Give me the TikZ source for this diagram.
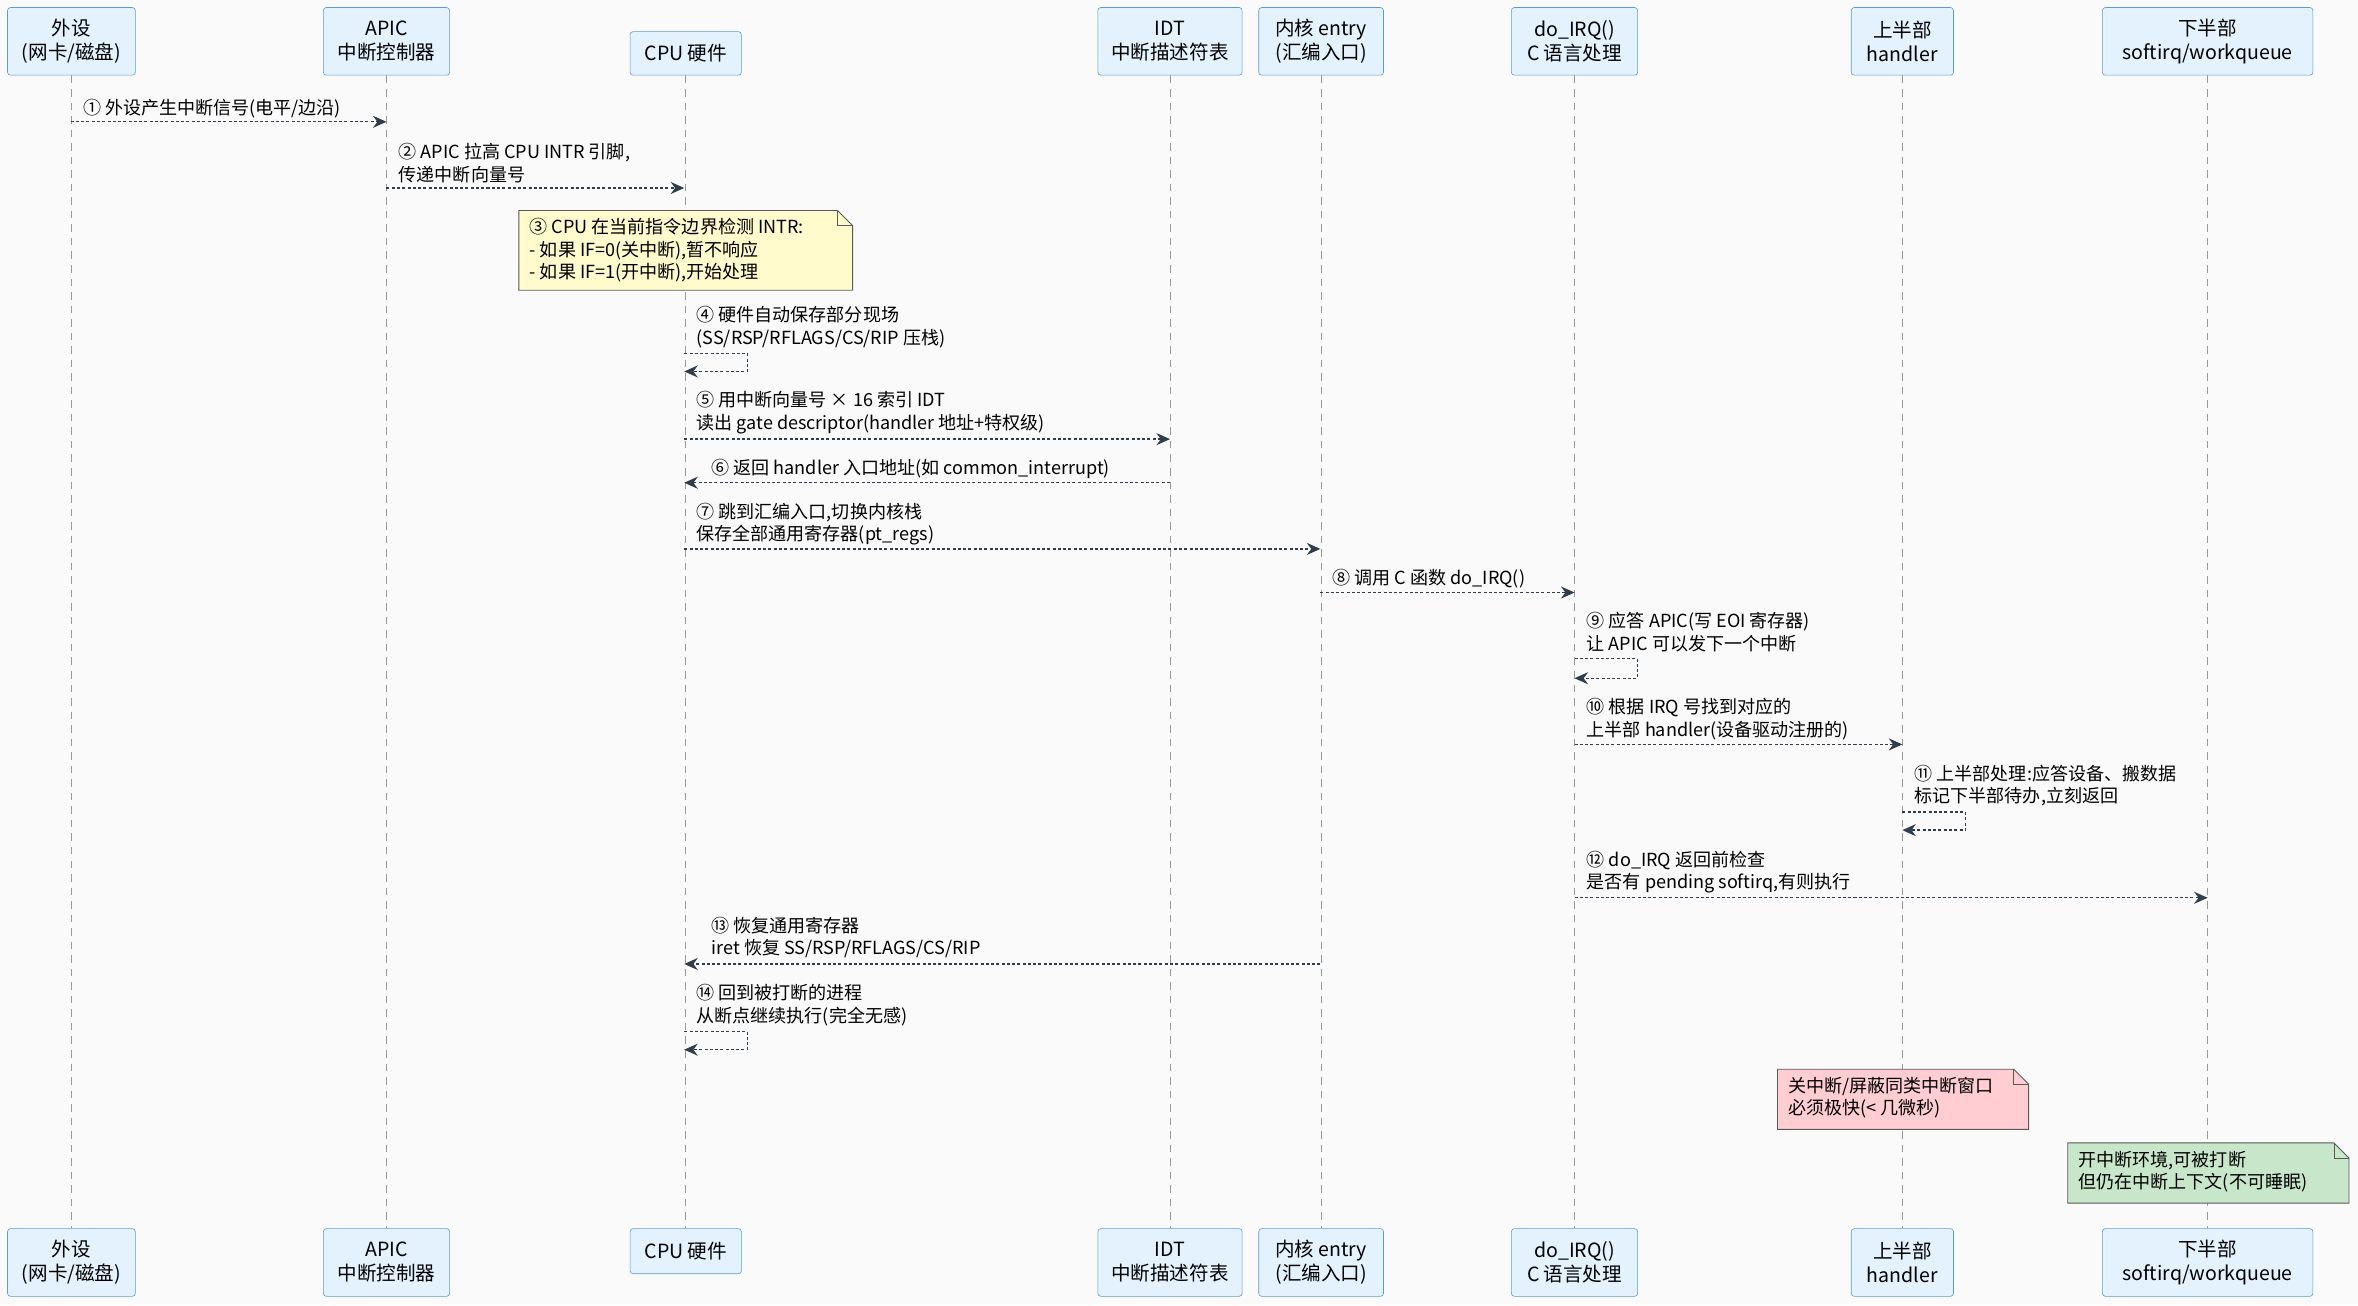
\documentclass[tikz,border=0pt]{standalone}
\usepackage{fontspec}
\setmainfont{Noto Sans CJK SC}
\usetikzlibrary{arrows.meta,shapes.misc}
\definecolor{bg}{HTML}{FAFAFA}
\definecolor{pfill}{HTML}{E3F2FD}
\definecolor{pdraw}{HTML}{5B9BD5}
\definecolor{ln}{HTML}{2F3E4C}
\definecolor{nyel}{HTML}{FFFBCC}
\definecolor{npink}{HTML}{FFCDD2}
\definecolor{ngreen}{HTML}{C8E6C9}
\tikzset{
 part/.style={draw=pdraw,fill=pfill,rounded corners=2pt,align=center,font=\fontsize{13}{16}\selectfont,inner sep=0pt},
 life/.style={draw=gray!80,dash pattern=on 5pt off 4pt,line width=0.6pt},
 msg/.style={draw=ln,dash pattern=on 2pt off 1.5pt,line width=0.9pt,-{Stealth[length=9pt,width=8pt]}},
 lab/.style={anchor=west,align=left,font=\fontsize{12}{15}\selectfont,inner sep=0pt,text=black},
 notetxt/.style={anchor=north west,align=left,font=\fontsize{12}{15}\selectfont,inner sep=0pt},
}
\newcommand{\partbox}[6]{% name, x1, y1, x2, y2, text
 \node[part,minimum width=#4pt-#2pt,minimum height=#5pt-#3pt] (#1) at ({(#2+#4)/2},{(#3+#5)/2}) {#6};}
\newcommand{\notebox}[6]{% x1,y1,x2,y2,color,text
 \fill[#5] (#1,#2) -- (#3-10,#2) -- (#3,#2+10) -- (#3,#4) -- (#1,#4) -- cycle;
 \draw[gray!70!black,line width=0.6pt] (#1,#2) -- (#3-10,#2) -- (#3,#2+10) -- (#3,#4) -- (#1,#4) -- cycle;
 \draw[gray!70!black,line width=0.6pt] (#3-10,#2) -- (#3-10,#2+10) -- (#3,#2+10);
 \node[notetxt] at (#1+7,#2+5) {#6};}
\begin{document}
\begin{tikzpicture}[x=1pt,y=-1pt]
\fill[bg] (0,0) rectangle (1568,868);
\useasboundingbox (0,0) rectangle (1568,868);
% participants top
\partbox{t1}{5}{5}{90}{50}{外设\\(网卡/磁盘)}
\partbox{t2}{215}{5}{299}{50}{APIC\\中断控制器}
\partbox{t3}{419}{21}{493}{50}{CPU 硬件}
\partbox{t4}{730}{5}{826}{50}{IDT\\中断描述符表}
\partbox{t5}{837}{5}{920}{50}{内核 entry\\(汇编入口)}
\partbox{t6}{1005}{5}{1089}{50}{do\_IRQ()\\C 语言处理}
\partbox{t7}{1231}{5}{1299}{50}{上半部\\handler}
\partbox{t8}{1398}{5}{1538}{50}{下半部\\softirq/workqueue}
% participants bottom
\partbox{b1}{5}{817}{90}{862}{外设\\(网卡/磁盘)}
\partbox{b2}{215}{817}{299}{862}{APIC\\中断控制器}
\partbox{b3}{419}{817}{493}{847}{CPU 硬件}
\partbox{b4}{730}{817}{826}{862}{IDT\\中断描述符表}
\partbox{b5}{837}{817}{920}{862}{内核 entry\\(汇编入口)}
\partbox{b6}{1005}{817}{1089}{862}{do\_IRQ()\\C 语言处理}
\partbox{b7}{1231}{817}{1299}{862}{上半部\\handler}
\partbox{b8}{1398}{817}{1538}{862}{下半部\\softirq/workqueue}
\foreach \i in {1,...,8}{\draw[life] (t\i.south) -- (b\i.north);}
% x positions: 47,257,455,778,878,1047,1265,1468
% 1
\coordinate (m1a) at (47,81); \coordinate (m1b) at (257,81);
\draw[msg] (m1a) -- (m1b);
\node[lab] at (55,72) {① 外设产生中断信号(电平/边沿)};
% 2
\coordinate (m2a) at (257,125); \coordinate (m2b) at (455,125);
\draw[msg] (m2a) -- (m2b);
\node[lab] at (265,108.5) {② APIC 拉高 CPU INTR 引脚,\\传递中断向量号};
% 3 note
\notebox{345}{140}{567}{193}{nyel}{③ CPU 在当前指令边界检测 INTR:\\- 如果 IF=0(关中断),暂不响应\\- 如果 IF=1(开中断),开始处理}
% 4 self
\coordinate (m4a) at (455,235); \coordinate (m4b) at (455,247);
\draw[msg] (m4a) -- ++(42,0) |- (m4b);
\node[lab] at (463,217.5) {④ 硬件自动保存部分现场\\(SS/RSP/RFLAGS/CS/RIP 压栈)};
% 5
\coordinate (m5a) at (455,292); \coordinate (m5b) at (778,292);
\draw[msg] (m5a) -- (m5b);
\node[lab] at (463,274.5) {⑤ 用中断向量号 × 16 索引 IDT\\读出 gate descriptor(handler 地址+特权级)};
% 6
\coordinate (m6a) at (778,321); \coordinate (m6b) at (455,321);
\draw[msg] (m6a) -- (m6b);
\node[lab] at (473,312) {⑥ 返回 handler 入口地址(如 common\_interrupt)};
% 7
\coordinate (m7a) at (455,365); \coordinate (m7b) at (878,365);
\draw[msg] (m7a) -- (m7b);
\node[lab] at (463,348.5) {⑦ 跳到汇编入口,切换内核栈\\保存全部通用寄存器(pt\_regs)};
% 8
\coordinate (m8a) at (878,394); \coordinate (m8b) at (1047,394);
\draw[msg] (m8a) -- (m8b);
\node[lab] at (886,385) {⑧ 调用 C 函数 do\_IRQ()};
% 9 self
\coordinate (m9a) at (1047,438); \coordinate (m9b) at (1047,451);
\draw[msg] (m9a) -- ++(42,0) |- (m9b);
\node[lab] at (1055,420.5) {⑨ 应答 APIC(写 EOI 寄存器)\\让 APIC 可以发下一个中断};
% 10
\coordinate (m10a) at (1047,495); \coordinate (m10b) at (1265,495);
\draw[msg] (m10a) -- (m10b);
\node[lab] at (1055,478) {⑩ 根据 IRQ 号找到对应的\\上半部 handler(设备驱动注册的)};
% 11 self
\coordinate (m11a) at (1265,540); \coordinate (m11b) at (1265,552);
\draw[msg] (m11a) -- ++(42,0) |- (m11b);
\node[lab] at (1273,522.5) {⑪ 上半部处理:应答设备、搬数据\\标记下半部待办,立刻返回};
% 12
\coordinate (m12a) at (1047,597); \coordinate (m12b) at (1468,597);
\draw[msg] (m12a) -- (m12b);
\node[lab] at (1055,580) {⑫ do\_IRQ 返回前检查\\是否有 pending softirq,有则执行};
% 13
\coordinate (m13a) at (878,641); \coordinate (m13b) at (455,641);
\draw[msg] (m13a) -- (m13b);
\node[lab] at (473,623.5) {⑬ 恢复通用寄存器\\iret 恢复 SS/RSP/RFLAGS/CS/RIP};
% 14 self
\coordinate (m14a) at (455,686); \coordinate (m14b) at (455,698);
\draw[msg] (m14a) -- ++(42,0) |- (m14b);
\node[lab] at (463,668.5) {⑭ 回到被打断的进程\\从断点继续执行(完全无感)};
% notes
\notebox{1182}{711}{1349}{751}{npink}{关中断/屏蔽同类中断窗口\\必须极快(< 几微秒)}
\notebox{1375}{760}{1562}{800}{ngreen}{开中断环境,可被打断\\但仍在中断上下文(不可睡眠)}
\end{tikzpicture}
\end{document}
